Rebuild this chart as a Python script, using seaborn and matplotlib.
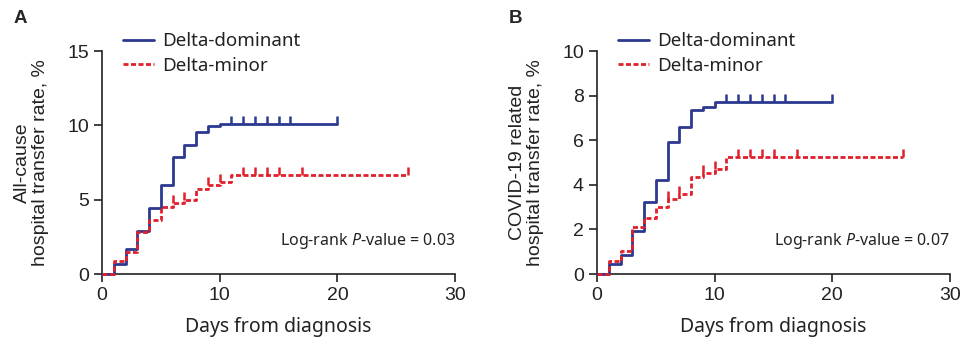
import numpy as np
import pandas as pd
import matplotlib
matplotlib.use("Agg")
import matplotlib.pyplot as plt
import seaborn as sns

# step heights (%), one value per day step
days_dom = [0, 1, 2, 3, 4, 5, 6, 7, 8, 9, 10, 20]
days_min = [0, 1, 2, 3, 4, 5, 6, 7, 8, 9, 10, 11, 26]

allcause_dom = [0, 0.67, 1.68, 2.9, 4.45, 6.0, 7.85, 8.7, 9.55, 9.95, 10.1, 10.1]
allcause_min = [0, 0.85, 1.5, 2.8, 3.6, 4.5, 4.8, 4.95, 5.75, 6.0, 6.2, 6.68, 6.68]

covid_dom = [0, 0.45, 0.87, 1.94, 3.21, 4.22, 5.94, 6.6, 7.34, 7.5, 7.72, 7.72]
covid_min = [0, 0.6, 1.04, 2.12, 2.51, 3.01, 3.36, 3.58, 4.33, 4.52, 4.7, 5.25, 5.25]

censor_dom = [11, 12, 13, 14, 15, 16, 20]
censor_min = [6, 7, 9, 10, 12, 13, 14, 15, 17, 26]

groups = ["Delta-dominant", "Delta-minor"]
colors = {"Delta-dominant": "#2b3990", "Delta-minor": "#e0202a"}

panels = [
    ("A", "All-cause\nhospital transfer rate, %", allcause_dom, allcause_min,
     [0, 5, 10, 15], "0.03"),
    ("B", "COVID-19 related\nhospital transfer rate, %", covid_dom, covid_min,
     [0, 2, 4, 6, 8, 10], "0.07"),
]

sns.set_style("ticks")
plt.rcParams["font.family"] = ["Liberation Sans", "DejaVu Sans"]
plt.rcParams["mathtext.fontset"] = "custom"
plt.rcParams["mathtext.rm"] = "Noto Sans"
plt.rcParams["mathtext.it"] = "Noto Sans:italic"

fig = plt.figure(figsize=(9.78, 3.42), dpi=100)
boxes = [[0.1043, 0.1988, 0.361, 0.652], [0.6104, 0.1988, 0.361, 0.652]]
ink = "#222222"


def step_value(days, vals, t):
    i = np.searchsorted(days, t, side="right") - 1
    return vals[i]


for box, (tag, ylab, dom, mino, yticks, pval) in zip(boxes, panels):
    ax = fig.add_axes(box)
    df = pd.concat([
        pd.DataFrame({"day": days_dom, "rate": dom, "group": groups[0]}),
        pd.DataFrame({"day": days_min, "rate": mino, "group": groups[1]}),
    ])
    sns.lineplot(data=df, x="day", y="rate", hue="group", style="group",
                 palette=colors, dashes={groups[0]: "", groups[1]: (1.8, 0.9)},
                 drawstyle="steps-post", linewidth=2.0, ax=ax, estimator=None,
                 sort=False, clip_on=False, zorder=3)

    for g, cdays, dd, vv in [(groups[0], censor_dom, days_dom, dom),
                             (groups[1], censor_min, days_min, mino)]:
        cy = [step_value(dd, vv, t) for t in cdays]
        ax.plot(cdays, cy, ls="none", marker=2, markersize=5.5, mew=1.8,
                color=colors[g])

    ax.set_xlim(0, 30)
    ax.set_ylim(0, yticks[-1])
    ax.set_xticks([0, 10, 20, 30])
    ax.set_yticks(yticks)
    ax.tick_params(labelsize=14, length=6, width=1.2, colors=ink)
    for s in ["left", "bottom"]:
        ax.spines[s].set_linewidth(1.2)
        ax.spines[s].set_color(ink)
    sns.despine(ax=ax)

    ax.set_ylabel(ylab, fontsize=14, labelpad=13, color=ink, linespacing=1.05)
    ax.set_xlabel("Days from diagnosis", fontsize=14, family="Noto Sans",
                  color=ink, labelpad=9)

    leg = ax.legend(loc="upper left", bbox_to_anchor=(0.06, 1.085),
                    frameon=False, prop={"family": "Noto Sans", "size": 13.5},
                    handlelength=1.65, handletextpad=0.45, borderpad=0,
                    borderaxespad=0, labelspacing=0.35)
    for t in leg.get_texts():
        t.set_color(ink)

    ax.text(1.0, 0.15, "Log-rank $\\it{P}$-value = " + pval, transform=ax.transAxes,
            ha="right", va="center", fontsize=11.5, family="Noto Sans", color=ink)

    fig.text(box[0] - 0.09, 0.947, tag, fontsize=13.5, fontweight="bold",
             ha="left", va="center")

fig.savefig("out.png", dpi=100)
